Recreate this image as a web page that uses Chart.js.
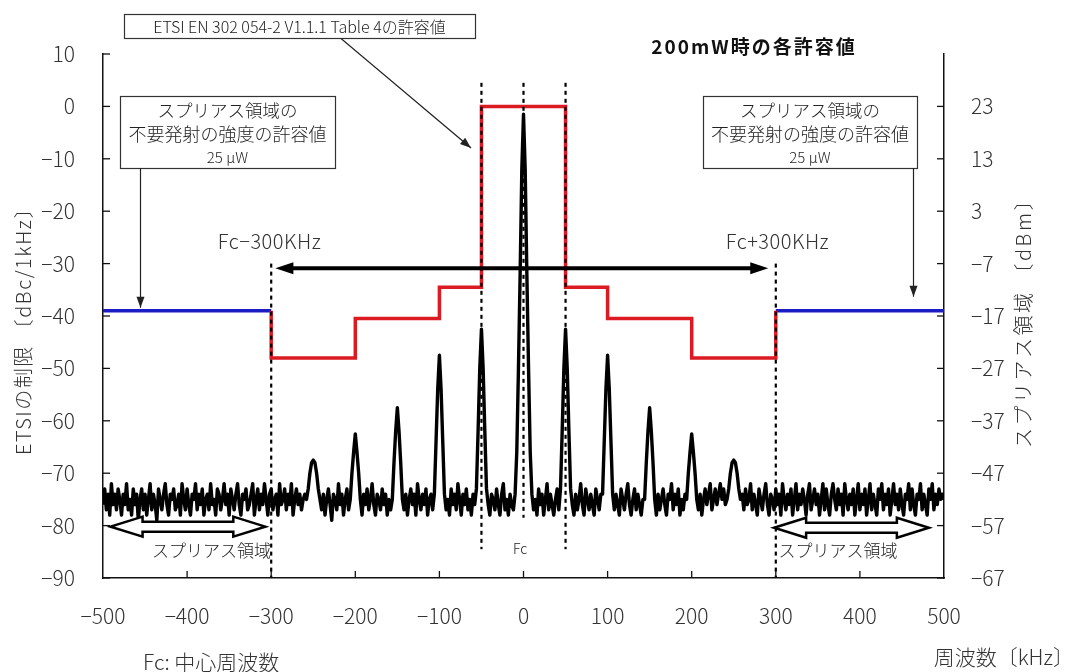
<!DOCTYPE html>
<html lang="ja">
<head>
<meta charset="utf-8">
<title>200mW時の各許容値</title>
<script src="https://cdn.jsdelivr.net/npm/chart.js@4.4.1/dist/chart.umd.min.js"></script>
<style>
  html, body { margin: 0; padding: 0; background: #fff; }
  #wrap { width: 1075px; height: 672px; }
</style>
</head>
<body>
<div id="wrap"><canvas id="grafico" width="1075" height="672"></canvas></div>
<script>
// measured trace: one value every 2 kHz from -500 kHz (dBc/1kHz)
const spectrumStart = -500;
const spectrumStep = 2;
const spectrumLevel = [
  -76,-73,-77,-74,-78, -72,-76,-74,-77,-73, -75,-78,-74,-76,-72, -77,-75,-78,-73,-76, -74,-79,-75,-73,-77,
  -74,-78,-75,-72,-77, -74,-76,-79,-73,-75, -77,-74,-72,-76,-78, -74,-75,-73,-77,-76, -74,-78,-72,-75,-77,
  -73,-76,-78,-74,-75, -72,-77,-74,-76,-73, -78,-75,-74,-77,-72, -76,-75,-78,-73,-74, -77,-75,-72,-76,-74,
  -78,-73,-75,-77,-74, -72,-76,-78,-74,-75, -73,-77,-76,-74,-72, -78,-75,-73,-77,-74, -76,-72,-75,-78,-74,
  -73,-77,-75,-74,-78, -72,-76,-75,-73,-77, -74,-76,-72,-78,-75, -73,-76,-74,-77,-75, -74,-75,-73,-70,-68,
  -67.5,-68,-70,-73,-75, -77,-74,-78,-75,-73, -76,-79,-74,-75,-77, -72,-76,-74,-78,-75, -73,-77,-75,-70,-66,
  -62.5,-66,-70,-75,-78, -74,-76,-73,-77,-75, -72,-76,-78,-74,-75, -77,-73,-76,-74,-78, -75,-77,-75,-68,-62,
  -57.5,-62,-68,-75,-77, -74,-78,-75,-73,-76, -74,-78,-72,-75,-77, -74,-76,-73,-78,-75, -74,-77,-74,-64,-54,
  -47.5,-54,-64,-74,-77, -75,-78,-73,-76,-74, -77,-72,-75,-78,-74, -76,-73,-77,-75,-78, -74,-76,-73,-62,-50,
  -42.5,-50,-62,-73,-76, -78,-74,-75,-77,-73, -76,-78,-74,-72,-77, -75,-78,-74,-76,-77, -74,-66,-50,-32,-12,
  -1.5,-12,-32,-50,-66, -74,-77,-75,-78,-73, -76,-74,-78,-75,-72, -77,-74,-76,-78,-75, -73,-77,-73,-62,-50,
  -42.5,-50,-62,-73,-76, -78,-74,-77,-75,-72, -76,-78,-73,-75,-77, -74,-76,-78,-73,-75, -77,-74,-74,-64,-54,
  -47.5,-54,-64,-74,-77, -74,-76,-78,-73,-75, -77,-74,-72,-76,-78, -75,-73,-77,-74,-76, -78,-75,-75,-68,-62,
  -57.5,-62,-68,-75,-78, -74,-77,-75,-73,-76, -78,-74,-75,-72,-77, -74,-76,-73,-78,-75, -77,-74,-75,-70,-66,
  -62.5,-66,-70,-75,-77, -74,-78,-75,-73,-76, -74,-72,-77,-75,-73, -76,-74,-72,-75,-73, -76,-75,-73,-70,-68,
  -67.5,-68,-70,-73,-75, -74,-77,-73,-76,-75, -72,-77,-74,-76,-78, -73,-75,-77,-74,-72, -76,-78,-74,-75,-77,
  -73,-76,-74,-78,-72, -75,-77,-74,-76,-73, -78,-75,-72,-77,-74, -76,-73,-75,-78,-74, -72,-77,-75,-73,-76,
  -74,-78,-75,-72,-77, -73,-76,-78,-74,-72, -75,-77,-73,-76,-74, -78,-72,-75,-77,-74, -76,-73,-78,-75,-72,
  -77,-74,-76,-73,-78, -75,-72,-77,-74,-76, -78,-73,-75,-72,-77, -74,-76,-73,-78,-75, -72,-76,-74,-77,-73,
  -76,-78,-74,-75,-72, -77,-73,-76,-78,-74, -75,-72,-77,-74,-76, -78,-73,-75,-72,-77, -74,-76,-73,-75,-74,
  -75
];

// ETSI EN 302 054-2 Table 4 mask (kHz, dBc/1kHz)
const maskFreq  = [-300, -300, -200, -200, -100, -100, -50, -50, 50, 50, 100, 100, 200, 200, 300, 300];
const maskLevel = [-39, -48, -48, -40.5, -40.5, -34.5, -34.5, 0, 0, -34.5, -34.5, -40.5, -40.5, -48, -48, -39];

// spurious domain limit 25 uW
const spuriousLeftFreq = [-500, -300];
const spuriousRightFreq = [300, 500];
const spuriousLevel = -39;

// dotted reference lines: Fc-300, Fc-50, Fc, Fc+50, Fc+300
const markerFreq   = [-300, -50, 0, 50, 300];
const markerTop    = [-30, 4.5, 4.5, 4.5, -30];
const markerBottom = [-90, -84.5, -78.5, -84.5, -90];

const xMin = -500, xMax = 500, xStep = 100;
const yMin = -90, yMax = 10, yStep = 10;
const dbmOffset = 23; // 200 mW = 23 dBm

const jp = '"Noto Sans CJK JP", "Noto Sans", sans-serif';
const minus = v => String(v).replace('-', '\u2212');

const spectrumPoints = spectrumLevel.map((v, i) => ({ x: spectrumStart + i * spectrumStep, y: v }));
const maskPoints = maskFreq.map((f, i) => ({ x: f, y: maskLevel[i] }));

const markerSets = markerFreq.map((f, i) => ({
    data: [{ x: f, y: markerTop[i] }, { x: f, y: markerBottom[i] }],
    borderColor: "#000",
    borderWidth: 2.2,
    borderDash: [4, 4],
    pointRadius: 0,
}));

const line = (ctx, x1, y1, x2, y2) => {
    ctx.beginPath();
    ctx.moveTo(x1, y1);
    ctx.lineTo(x2, y2);
    ctx.stroke();
};

const head = (ctx, tx, ty, fx, fy, len, half) => {
    const a = Math.atan2(ty - fy, tx - fx);
    const bx = tx - len * Math.cos(a), by = ty - len * Math.sin(a);
    ctx.beginPath();
    ctx.moveTo(tx, ty);
    ctx.lineTo(bx + half * Math.sin(a), by - half * Math.cos(a));
    ctx.lineTo(bx - half * Math.sin(a), by + half * Math.cos(a));
    ctx.closePath();
    ctx.fill();
};

const pointer = (ctx, x1, y1, x2, y2) => {
    ctx.strokeStyle = "#222";
    ctx.fillStyle = "#222";
    ctx.lineWidth = 1.2;
    line(ctx, x1, y1, x2, y2);
    head(ctx, x2, y2, x1, y1, 11, 4);
};

const noteBox = (ctx, l, t, r, b, rows) => {
    ctx.fillStyle = "#fff";
    ctx.fillRect(l, t, r - l, b - t);
    ctx.strokeStyle = "#333";
    ctx.lineWidth = 1.2;
    ctx.strokeRect(l + 0.5, t + 0.5, r - l, b - t);
    ctx.fillStyle = "#222";
    ctx.textAlign = "center";
    ctx.textBaseline = "middle";
    rows.forEach(([s, size, y]) => {
        ctx.font = `300 ${size}px ${jp}`;
        ctx.fillText(s, (l + r) / 2, y);
    });
};

const hollowArrow = (ctx, x0, x1, yc) => {
    const L = 32, H = 10, h = 5;
    ctx.beginPath();
    ctx.moveTo(x0, yc);
    ctx.lineTo(x0 + L, yc - H);
    ctx.lineTo(x0 + L, yc - h);
    ctx.lineTo(x1 - L, yc - h);
    ctx.lineTo(x1 - L, yc - H);
    ctx.lineTo(x1, yc);
    ctx.lineTo(x1 - L, yc + H);
    ctx.lineTo(x1 - L, yc + h);
    ctx.lineTo(x0 + L, yc + h);
    ctx.lineTo(x0 + L, yc + H);
    ctx.closePath();
    ctx.fillStyle = "#fff";
    ctx.fill();
    ctx.strokeStyle = "#000";
    ctx.lineWidth = 2.5;
    ctx.lineJoin = "miter";
    ctx.stroke();
};

const text = (ctx, s, x, y, size, opts = {}) => {
    ctx.save();
    ctx.font = `${opts.weight || "300"} ${size}px ${jp}`;
    ctx.fillStyle = opts.color || "#222";
    ctx.textAlign = opts.align || "center";
    ctx.textBaseline = "middle";
    if (opts.spacing) ctx.letterSpacing = opts.spacing;
    ctx.translate(x, y);
    if (opts.rotate) ctx.rotate(opts.rotate);
    ctx.fillText(s, 0, 0);
    ctx.restore();
};

const decor = {
    id: "decor",
    afterDraw(chart) {
        const { ctx, scales: { x, y, y2 } } = chart;
        ctx.save();

        // ticks drawn on the inside of the frame
        ctx.strokeStyle = "#111";
        ctx.lineWidth = 1.3;
        x.ticks.forEach(t => {
            if (t.value <= xMin || t.value >= xMax) return;
            const px = x.getPixelForValue(t.value);
            line(ctx, px, y.bottom, px, y.bottom - 7);
        });
        y.ticks.forEach(t => {
            const py = y.getPixelForValue(t.value);
            line(ctx, x.left, py, x.left + 7, py);
        });
        y2.ticks.forEach(t => {
            if (t.value > yMax + dbmOffset - yStep) return;
            const py = y2.getPixelForValue(t.value);
            line(ctx, x.right, py, x.right - 7, py);
        });

        // Fc±300 kHz span arrow
        const ay = y.getPixelForValue(-30.9);
        const ax0 = x.getPixelForValue(-295), ax1 = x.getPixelForValue(291);
        ctx.strokeStyle = "#000";
        ctx.fillStyle = "#000";
        ctx.lineWidth = 4;
        line(ctx, ax0 + 10, ay, ax1 - 10, ay);
        head(ctx, ax0, ay, ax1, ay, 18, 6);
        head(ctx, ax1, ay, ax0, ay, 18, 6);

        // spurious domain arrows
        hollowArrow(ctx, x.getPixelForValue(-491), x.getPixelForValue(-307), y.getPixelForValue(-80.2));
        hollowArrow(ctx, x.getPixelForValue(298), x.getPixelForValue(482), y.getPixelForValue(-80.4));

        text(ctx, "スプリアス領域", x.getPixelForValue(-371), y.getPixelForValue(-84.8), 17);
        text(ctx, "スプリアス領域", x.getPixelForValue(374), y.getPixelForValue(-84.8), 17);
        text(ctx, "Fc", x.getPixelForValue(-4), y.getPixelForValue(-84.5), 14);
        text(ctx, "Fc\u2212300KHz", x.getPixelForValue(-302), y.getPixelForValue(-25.8), 20, { color: "#333", spacing: "0.5px" });
        text(ctx, "Fc+300KHz", x.getPixelForValue(302), y.getPixelForValue(-25.8), 20, { color: "#333", spacing: "0.5px" });

        // callouts
        noteBox(ctx, 124, 14, 475, 38, [["ETSI EN 302 054-2 V1.1.1 Table 4の許容値", 16, 26.5]]);
        pointer(ctx, 341, 38.5, 471, 148);

        const limitRows = y0 => [["スプリアス領域の", 17.5, y0 + 14], ["不要発射の強度の許容値", 18, y0 + 38], ["25 μW", 15, y0 + 61]];
        noteBox(ctx, 120, 96, 335, 168, limitRows(96));
        pointer(ctx, 140.5, 168, 140.5, y.getPixelForValue(spuriousLevel) - 3);
        noteBox(ctx, 703, 96, 917, 168, limitRows(96));
        pointer(ctx, 913.5, 168, 913.5, y.getPixelForValue(spuriousLevel) - 14);

        // titles
        text(ctx, "200mW時の各許容値", 754, 46.5, 19, { weight: "bold", spacing: "2px", color: "#111" });
        text(ctx, "ETSIの制限 〔dBc/1kHz〕", 23, 326, 20, { rotate: -Math.PI / 2, color: "#333", spacing: "1.5px" });
        text(ctx, "スプリアス領域 〔dBm〕", 1023, 318, 20, { rotate: -Math.PI / 2, color: "#333", spacing: "2.5px" });
        text(ctx, "Fc: 中心周波数", 143, 662, 21, { align: "left", color: "#333" });
        text(ctx, "周波数〔kHz〕", 1074, 657, 21, { align: "right", color: "#333" });

        ctx.restore();
    }
};

const tickFont = { family: jp, size: 21, weight: "300" };

new Chart(document.getElementById("grafico").getContext("2d"), {
    type: "line",
    data: {
        datasets: [
            ...markerSets,
            {
                data: maskPoints,
                borderColor: "#dc1a22",
                borderWidth: 3.5,
                pointRadius: 0,
            },
            {
                data: spuriousLeftFreq.map(f => ({ x: f, y: spuriousLevel })),
                borderColor: "#1c1cc4",
                borderWidth: 3.5,
                pointRadius: 0,
            },
            {
                data: spuriousRightFreq.map(f => ({ x: f, y: spuriousLevel })),
                borderColor: "#1c1cc4",
                borderWidth: 3.5,
                pointRadius: 0,
            },
            {
                data: spectrumPoints,
                borderColor: "#000",
                borderWidth: 3.4,
                pointRadius: 0,
                borderJoinStyle: "round",
            },
        ]
    },
    options: {
        responsive: false,
        animation: false,
        devicePixelRatio: 1,
        layout: { padding: { top: 54, left: 0, right: 0, bottom: 0 } },
        plugins: { legend: { display: false }, tooltip: { enabled: false } },
        elements: { line: { tension: 0 } },
        scales: {
            x: {
                type: "linear",
                min: xMin,
                max: xMax,
                grid: { display: false },
                border: { color: "#111", width: 1.5 },
                ticks: { stepSize: xStep, font: tickFont, color: "#333", padding: 17, maxRotation: 0, autoSkip: false, callback: minus },
                afterFit: s => { s.height = 94; }
            },
            y: {
                position: "left",
                min: yMin,
                max: yMax,
                grid: { display: false },
                border: { color: "#111", width: 1.5 },
                ticks: { stepSize: yStep, font: tickFont, color: "#333", padding: 20, callback: minus },
                afterFit: s => { s.width = 103; }
            },
            y2: {
                position: "right",
                min: yMin + dbmOffset,
                max: yMax + dbmOffset,
                grid: { display: false },
                border: { color: "#111", width: 1.5 },
                ticks: {
                    stepSize: yStep, font: tickFont, color: "#333", padding: 19,
                    callback: v => v > yMax + dbmOffset - yStep ? "" : minus(v)
                },
                afterFit: s => { s.width = 131; }
            }
        }
    },
    plugins: [decor]
});
</script>
</body>
</html>
